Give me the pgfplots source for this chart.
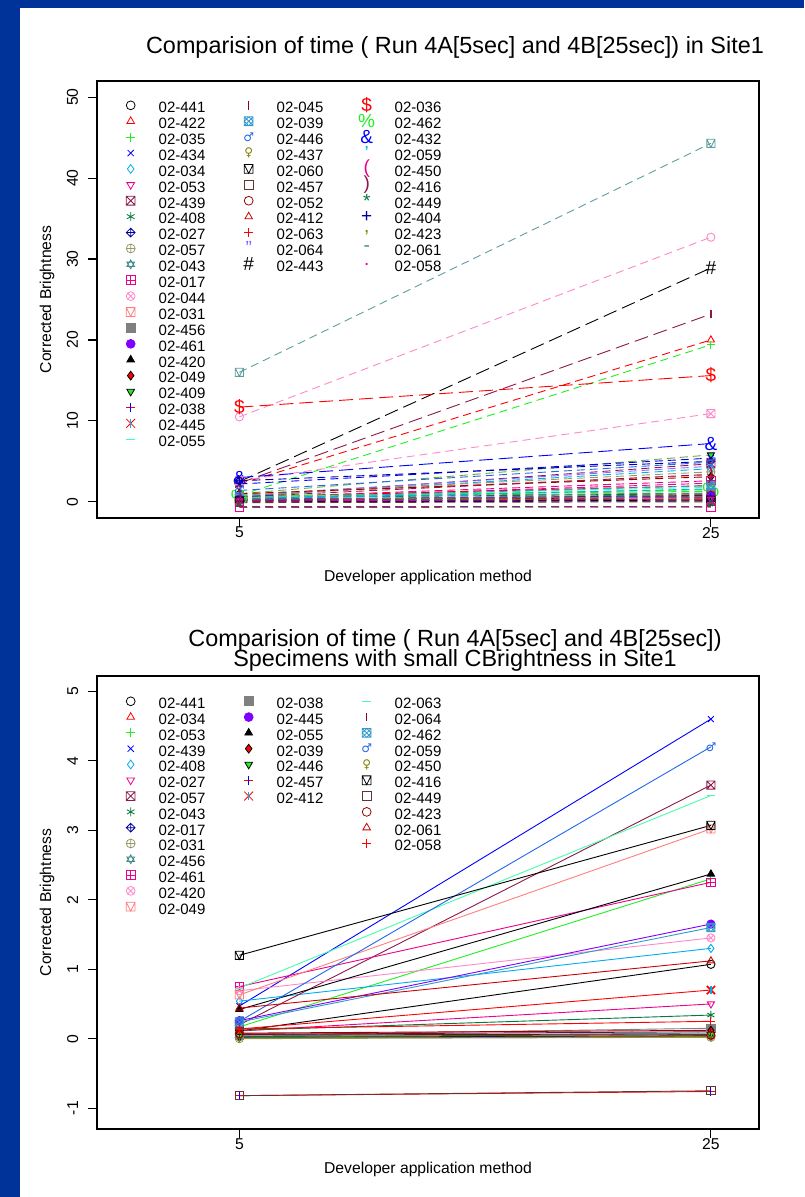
\documentclass[border=0pt]{standalone}
\usepackage{fontspec}
\setmainfont{Liberation Sans}
\newfontfamily\dejavu{DejaVu Sans}
\usepackage{pgfplots}
\pgfplotsset{compat=1.18}
\usetikzlibrary{plotmarks}

\definecolor{bgblue}{HTML}{003399}
\definecolor{rgreen}{HTML}{22EE22}
\definecolor{rmaroon}{HTML}{8B1A4B}
\definecolor{rmaroon2}{HTML}{800040}
\definecolor{rdkgreen}{HTML}{007A3D}
\definecolor{rnavy}{HTML}{0000A0}
\definecolor{rolive}{HTML}{999966}
\definecolor{rteal}{HTML}{3D8B8B}
\definecolor{rteal2}{HTML}{5F9EA0}
\definecolor{rpink}{HTML}{FF88CC}
\definecolor{rsalmon}{HTML}{FF7F7F}
\definecolor{rgray}{HTML}{808080}
\definecolor{rpurple}{HTML}{8000FF}
\definecolor{rpurple2}{HTML}{8866FF}
\definecolor{rmint}{HTML}{44FFAA}
\definecolor{rsteel}{HTML}{3399CC}
\definecolor{rblue2}{HTML}{2266EE}
\definecolor{rolive2}{HTML}{808000}
\definecolor{rbrown}{HTML}{663333}
\definecolor{rdkred}{HTML}{990000}
\definecolor{rred2}{HTML}{CC0000}
\definecolor{rolivegreen}{HTML}{66AA33}

\newcommand{\LF}{\fontsize{15}{15}\selectfont}
\newcommand{\TF}{\fontsize{15.7}{15.7}\selectfont}
\newcommand{\HF}{\fontsize{23.4}{23.4}\selectfont}
\newcommand{\MF}{\fontsize{19}{19}\selectfont}
\newcommand{\DF}{\dejavu\fontsize{12}{12}\selectfont}

\newcommand{\mr}{\pgfplotmarksize}
\pgfdeclareplotmark{squarex}{%
  \pgfpathrectangle{\pgfqpoint{-\mr}{-\mr}}{\pgfqpoint{2\mr}{2\mr}}%
  \pgfpathmoveto{\pgfqpoint{-\mr}{-\mr}}\pgfpathlineto{\pgfqpoint{\mr}{\mr}}%
  \pgfpathmoveto{\pgfqpoint{-\mr}{\mr}}\pgfpathlineto{\pgfqpoint{\mr}{-\mr}}%
  \pgfusepathqstroke}
\pgfdeclareplotmark{squareplus}{%
  \pgfpathrectangle{\pgfqpoint{-\mr}{-\mr}}{\pgfqpoint{2\mr}{2\mr}}%
  \pgfpathmoveto{\pgfqpoint{-\mr}{0pt}}\pgfpathlineto{\pgfqpoint{\mr}{0pt}}%
  \pgfpathmoveto{\pgfqpoint{0pt}{\mr}}\pgfpathlineto{\pgfqpoint{0pt}{-\mr}}%
  \pgfusepathqstroke}
\pgfdeclareplotmark{squaretri}{%
  \pgfpathrectangle{\pgfqpoint{-\mr}{-\mr}}{\pgfqpoint{2\mr}{2\mr}}%
  \pgfpathmoveto{\pgfqpoint{-\mr}{\mr}}\pgfpathlineto{\pgfqpoint{0pt}{-\mr}}\pgfpathlineto{\pgfqpoint{\mr}{\mr}}%
  \pgfusepathqstroke}
\pgfdeclareplotmark{diamondplus}{%
  \pgfpathmoveto{\pgfqpoint{0pt}{\mr}}\pgfpathlineto{\pgfqpoint{\mr}{0pt}}\pgfpathlineto{\pgfqpoint{0pt}{-\mr}}\pgfpathlineto{\pgfqpoint{-\mr}{0pt}}\pgfpathclose
  \pgfpathmoveto{\pgfqpoint{-\mr}{0pt}}\pgfpathlineto{\pgfqpoint{\mr}{0pt}}%
  \pgfpathmoveto{\pgfqpoint{0pt}{\mr}}\pgfpathlineto{\pgfqpoint{0pt}{-\mr}}%
  \pgfusepathqstroke}
\pgfdeclareplotmark{davidstar}{%
  \pgfpathmoveto{\pgfqpoint{0pt}{\mr}}\pgfpathlineto{\pgfqpoint{-0.866\mr}{-0.5\mr}}\pgfpathlineto{\pgfqpoint{0.866\mr}{-0.5\mr}}\pgfpathclose
  \pgfpathmoveto{\pgfqpoint{0pt}{-\mr}}\pgfpathlineto{\pgfqpoint{-0.866\mr}{0.5\mr}}\pgfpathlineto{\pgfqpoint{0.866\mr}{0.5\mr}}\pgfpathclose
  \pgfusepathqstroke}
\pgfdeclareplotmark{hatch}{%
  \pgfpathrectangle{\pgfqpoint{-\mr}{-\mr}}{\pgfqpoint{2\mr}{2\mr}}%
  \pgfpathmoveto{\pgfqpoint{-\mr}{-\mr}}\pgfpathlineto{\pgfqpoint{\mr}{\mr}}%
  \pgfpathmoveto{\pgfqpoint{-\mr}{\mr}}\pgfpathlineto{\pgfqpoint{\mr}{-\mr}}%
  \pgfpathmoveto{\pgfqpoint{-\mr}{0pt}}\pgfpathlineto{\pgfqpoint{0pt}{\mr}}\pgfpathlineto{\pgfqpoint{\mr}{0pt}}\pgfpathlineto{\pgfqpoint{0pt}{-\mr}}\pgfpathclose
  \pgfusepathqstroke}
\pgfdeclareplotmark{crossarrow}{%
  \pgfsetstrokecolor{red}%
  \pgfpathmoveto{\pgfqpoint{-\mr}{0pt}}\pgfpathlineto{\pgfqpoint{\mr}{0pt}}\pgfusepathqstroke
  \pgfsetstrokecolor{blue}%
  \pgfpathmoveto{\pgfqpoint{0pt}{-\mr}}\pgfpathlineto{\pgfqpoint{0pt}{\mr}}\pgfusepathqstroke}
\pgfdeclareplotmark{xbar}{%
  \pgfsetstrokecolor{red}%
  \pgfpathmoveto{\pgfqpoint{-\mr}{-\mr}}\pgfpathlineto{\pgfqpoint{\mr}{\mr}}%
  \pgfpathmoveto{\pgfqpoint{-\mr}{\mr}}\pgfpathlineto{\pgfqpoint{\mr}{-\mr}}\pgfusepathqstroke
  \pgfsetstrokecolor{cyan}\pgfsetlinewidth{1.6pt}%
  \pgfpathmoveto{\pgfqpoint{0pt}{-\mr}}\pgfpathlineto{\pgfqpoint{0pt}{\mr}}\pgfusepathqstroke}

\tikzset{tmc/.style 2 args={mark=text, text mark={\MF\color{#1}#2}},
  tmdc/.style 2 args={mark=text, text mark={\DF\color{#1}#2}},
  dtri/.style={mark=triangle, mark options={solid, rotate=180}}}

\newcommand{\LE}[2]{\addlegendimage{#1}\addlegendentry{#2}}
\newcommand{\LB}{\addlegendimage{empty legend}\addlegendentry{}}

\pgfplotsset{
  rplot/.style={
    scale only axis, width=662pt,
    xmin=-1.04, xmax=27.04, xtick={5,25},
    tick align=outside, major tick length=9pt,
    xtick pos=bottom, ytick pos=left,
    axis line style={line width=1.1pt},
    tick style={line width=1.1pt, black},
    tick label style={font=\TF},
    /pgf/number format/assume math mode=true,
    yticklabel style={rotate=90, anchor=base, inner sep=0pt},
    yticklabel shift=10pt,
    xticklabel style={anchor=north, inner sep=0pt},
    every axis plot/.append style={mark size=4.1pt},
    legend columns=3,
    legend cell align=left,
    legend image code/.code={%
      \pgfpathrectangle{\pgfqpoint{-10pt}{-7.9pt}}{\pgfqpoint{38pt}{15.8pt}}\pgfusepath{}%
      \begin{pgfinterruptboundingbox}
      \draw[mark size=4.4pt, line width=0.8pt, ##1] plot coordinates {(0pt,2pt)};
      \end{pgfinterruptboundingbox}},
    legend style={draw=none, fill=none, inner sep=0pt, outer sep=0pt,
      row sep=0pt, column sep=0pt, font=\LF,
      nodes={inner sep=0pt, text width=80pt, text height=13.3pt, text depth=2.6pt, align=left}},
  },
  tl/.style={line width=0.9pt, dash pattern=on 8pt off 5pt},
  tll/.style={line width=0.9pt, dash pattern=on 14pt off 6pt},
  bl/.style={line width=0.9pt, solid},
}

\begin{document}
\begin{tikzpicture}[x=1pt,y=1pt]
\fill[bgblue] (0,0) rectangle (804,1197);
\fill[white] (20,0) rectangle (804,1189);

% ---------------- TOP PLOT ----------------
\begin{axis}[rplot, at={(97pt,679pt)}, anchor=south west, height=437pt,
  ymin=-2, ymax=52, ytick={0,10,20,30,40,50},
  legend style={at={(axis description cs:0.0358,0.9579)}, anchor=north west}]
\addplot[tl, color=rteal2, mark=squaretri, mark options={solid}, forget plot] coordinates {(5,16.0) (25,44.3)};
\addplot[tl, color=rpink, mark=o, mark options={solid}, forget plot] coordinates {(5,10.5) (25,32.7)};
\addplot[tll, color=black, tmc={black}{\#}, forget plot] coordinates {(5,2.5) (25,28.9)};
\addplot[tll, color=rmaroon, mark=|, mark options={solid, line width=1.5pt}, forget plot] coordinates {(5,2.3) (25,23.2)};
\addplot[tl, color=red, mark=triangle, mark options={solid}, forget plot] coordinates {(5,2.2) (25,20.0)};
\addplot[tl, color=rgreen, mark=+, mark options={solid}, forget plot] coordinates {(5,0.8) (25,19.4)};
\addplot[tll, color=red, tmc={red}{\$}, forget plot] coordinates {(5,11.7) (25,15.6)};
\addplot[tl, color=rpink, mark=squarex, mark options={solid}, forget plot] coordinates {(5,2.6) (25,10.9)};
\addplot[tll, color=blue, tmc={blue}{\&}, forget plot] coordinates {(5,3.0) (25,7.2)};
\addplot[tl, color=rolivegreen, mark=triangle*, mark options={solid, rotate=180, fill=rgreen, draw=black}, forget plot] coordinates {(5,1.0) (25,5.8)};
\addplot[tl, color=blue, mark=x, mark options={solid}, forget plot] coordinates {(5,2.2) (25,5.4)};
\addplot[tl, color=rnavy, mark=diamondplus, mark options={solid}, forget plot] coordinates {(5,2.6) (25,5.0)};
\addplot[tl, color=rmaroon, mark=squarex, mark options={solid}, forget plot] coordinates {(5,0.6) (25,4.7)};
\addplot[tl, color=rpurple2, mark=*, mark options={solid, scale=0.5}, forget plot] coordinates {(5,0.8) (25,4.4)};
\addplot[tl, color=cyan, mark=diamond, mark options={solid}, forget plot] coordinates {(5,0.7) (25,4.1)};
\addplot[tl, color=rolive, mark=oplus, mark options={solid}, forget plot] coordinates {(5,0.9) (25,3.7)};
\addplot[tl, color=rsalmon, mark=+, mark options={solid}, forget plot] coordinates {(5,0.9) (25,3.3)};
\addplot[tl, color=rdkred, mark=diamond*, mark options={solid, fill=red, draw=black}, forget plot] coordinates {(5,1.0) (25,3.1)};
\addplot[tl, color=magenta, mark=squareplus, mark options={solid}, forget plot] coordinates {(5,0.5) (25,2.6)};
\addplot[tl, color=magenta, mark=*, mark options={solid, scale=0.5}, forget plot] coordinates {(5,0.4) (25,2.3)};
\addplot[tl, color=rred2, mark=triangle, mark options={solid}, forget plot] coordinates {(5,0.6) (25,2.0)};
\addplot[tl, color=rgreen, tmc={rgreen}{\%}, forget plot] coordinates {(5,0.6) (25,1.5)};
\addplot[tl, color=rgreen, mark=o, mark options={solid}, forget plot] coordinates {(5,0.7) (25,1.3)};
\addplot[tl, color=rgray, mark=square*, mark options={solid}, forget plot] coordinates {(5,0.6) (25,1.1)};
\addplot[tl, color=rteal, mark=davidstar, mark options={solid}, forget plot] coordinates {(5,0.3) (25,0.9)};
\addplot[tl, color=rdkgreen, mark=asterisk, mark options={solid}, forget plot] coordinates {(5,0.5) (25,1.0)};
\addplot[tl, color=cyan, tmc={cyan}{'}, forget plot] coordinates {(5,0.3) (25,1.6)};
\addplot[tl, color=rmint, mark=-, mark options={solid}, forget plot] coordinates {(5,0.5) (25,1.8)};
\addplot[tl, color=rsteel, mark=hatch, mark options={solid}, forget plot] coordinates {(5,0.4) (25,2.0)};
\addplot[tl, color=rdkred, mark=o, mark options={solid}, forget plot] coordinates {(5,0.2) (25,0.8)};
\addplot[tl, color=black, mark=o, mark options={solid}, forget plot] coordinates {(5,0.3) (25,0.5)};
\addplot[tl, color=black, mark=triangle*, mark options={solid}, forget plot] coordinates {(5,0.2) (25,0.3)};
\addplot[tl, color=rpurple, mark=*, mark options={solid}, forget plot] coordinates {(5,0.3) (25,0.7)};
\addplot[tl, color=red, mark=crossarrow, mark options={solid}, forget plot] coordinates {(5,0.2) (25,0.6)};
\addplot[tl, color=rolive2, tmc={rolive2}{,}, forget plot] coordinates {(5,0.1) (25,0.4)};
\addplot[tl, color=rteal, mark=-, mark options={solid}, forget plot] coordinates {(5,0.3) (25,0.6)};
\addplot[tl, color=rnavy, mark=+, mark options={solid}, forget plot] coordinates {(5,0.0) (25,0.1)};
\addplot[tl, color=rbrown, mark=square, mark options={solid}, forget plot] coordinates {(5,-0.1) (25,0.0)};
\addplot[tl, color=black, mark=squaretri, mark options={solid}, forget plot] coordinates {(5,0.1) (25,0.2)};
\addplot[tl, color=magenta, dtri, forget plot] coordinates {(5,0.1) (25,0.3)};
\addplot[tl, color=rdkgreen, tmc={rdkgreen}{*}, forget plot] coordinates {(5,-0.6) (25,-0.6)};
\addplot[tl, color=magenta, mark=square, mark options={solid}, forget plot] coordinates {(5,-0.7) (25,-0.65)};
\addplot[tl, color=rmaroon, tmc={rmaroon}{)}, forget plot] coordinates {(5,0.6) (25,3.4)};
\addplot[tl, color=rblue2, tmdc={rblue2}{♂}, forget plot] coordinates {(5,1.4) (25,4.9)};
% legend (row-major, 3 columns)
\LE{black, mark=o}{02-441}\LE{rmaroon2, mark=|, line width=1.5pt}{02-045}\LE{red, tmc={red}{\$}}{02-036}
\LE{red, mark=triangle}{02-422}\LE{rsteel, mark=hatch}{02-039}\LE{rgreen, tmc={rgreen}{\%}}{02-462}
\LE{rgreen, mark=+}{02-035}\LE{rblue2, tmdc={rblue2}{♂}}{02-446}\LE{blue, tmc={blue}{\&}}{02-432}
\LE{blue, mark=x}{02-434}\LE{rolive2, tmdc={rolive2}{♀}}{02-437}\LE{cyan, tmc={cyan}{'}}{02-059}
\LE{cyan, mark=diamond}{02-034}\LE{black, mark=squaretri}{02-060}\LE{magenta, tmc={magenta}{(}}{02-450}
\LE{magenta, mark=triangle, mark options={rotate=180}}{02-053}\LE{rbrown, mark=square}{02-457}\LE{rmaroon, tmc={rmaroon}{)}}{02-416}
\LE{rmaroon, mark=squarex}{02-439}\LE{rdkred, mark=o}{02-052}\LE{rdkgreen, tmc={rdkgreen}{*}}{02-449}
\LE{rdkgreen, mark=asterisk}{02-408}\LE{rred2, mark=triangle}{02-412}\LE{rnavy, tmc={rnavy}{+}}{02-404}
\LE{rnavy, mark=diamondplus}{02-027}\LE{red, mark=+}{02-063}\LE{rolive2, tmc={rolive2}{,}}{02-423}
\LE{rolive, mark=oplus}{02-057}\LE{rpurple2, tmc={rpurple2}{"}}{02-064}\LE{rteal, tmc={rteal}{-}}{02-061}
\LE{rteal, mark=davidstar}{02-043}\LE{black, tmc={black}{\#}}{02-443}\LE{magenta, tmc={magenta}{.}}{02-058}
\LE{magenta, mark=squareplus}{02-017}\LB\LB
\LE{rpink, mark=otimes}{02-044}\LB\LB
\LE{rsalmon, mark=squaretri}{02-031}\LB\LB
\LE{rgray, mark=square*}{02-456}\LB\LB
\LE{rpurple, mark=*}{02-461}\LB\LB
\LE{black, mark=triangle*}{02-420}\LB\LB
\LE{black, mark=diamond*, mark options={fill=red}}{02-049}\LB\LB
\LE{black, mark=triangle*, mark options={rotate=180, fill=rgreen}}{02-409}\LB\LB
\LE{red, mark=crossarrow}{02-038}\LB\LB
\LE{red, mark=xbar}{02-445}\LB\LB
\LE{rmint, mark=-, line width=1.5pt}{02-055}\LB\LB
\end{axis}

% ---------------- BOTTOM PLOT ----------------
\begin{axis}[rplot, at={(97pt,68pt)}, anchor=south west, height=453pt,
  ymin=-1.30, ymax=5.22, ytick={-1,0,1,2,3,4,5},
  legend style={at={(axis description cs:0.0358,0.9572)}, anchor=north west,
    nodes={text height=13.25pt, text depth=2.55pt}}]
\addplot[bl, color=black, mark=o, forget plot] coordinates {(5,0.11) (25,1.07)};
\addplot[bl, color=red, mark=triangle, forget plot] coordinates {(5,0.02) (25,0.03)};
\addplot[bl, color=rgreen, mark=+, forget plot] coordinates {(5,0.17) (25,2.30)};
\addplot[bl, color=blue, mark=x, forget plot] coordinates {(5,0.47) (25,4.60)};
\addplot[bl, color=cyan, mark=diamond, forget plot] coordinates {(5,0.54) (25,1.30)};
\addplot[bl, color=magenta, dtri, forget plot] coordinates {(5,0.11) (25,0.50)};
\addplot[bl, color=rmaroon, mark=squarex, forget plot] coordinates {(5,0.20) (25,3.65)};
\addplot[bl, color=rdkgreen, mark=asterisk, forget plot] coordinates {(5,0.12) (25,0.34)};
\addplot[bl, color=rnavy, mark=diamondplus, forget plot] coordinates {(5,0.02) (25,0.04)};
\addplot[bl, color=rolive, mark=oplus, forget plot] coordinates {(5,0.00) (25,0.02)};
\addplot[bl, color=rteal, mark=davidstar, forget plot] coordinates {(5,0.04) (25,0.08)};
\addplot[bl, color=magenta, mark=squareplus, forget plot] coordinates {(5,0.75) (25,2.25)};
\addplot[bl, color=rpink, mark=otimes, forget plot] coordinates {(5,0.69) (25,1.45)};
\addplot[bl, color=rsalmon, mark=squaretri, forget plot] coordinates {(5,0.63) (25,3.02)};
\addplot[bl, color=rgray, mark=square*, forget plot] coordinates {(5,0.05) (25,0.15)};
\addplot[bl, color=rpurple, mark=*, forget plot] coordinates {(5,0.26) (25,1.65)};
\addplot[bl, color=black, mark=triangle*, forget plot] coordinates {(5,0.42) (25,2.37)};
\addplot[bl, color=rdkred, mark=diamond*, mark options={fill=red, draw=black}, forget plot] coordinates {(5,0.08) (25,0.12)};
\addplot[bl, color=rdkgreen, mark=triangle*, mark options={rotate=180, fill=rgreen, draw=black}, forget plot] coordinates {(5,0.03) (25,0.06)};
\addplot[bl, color=red, mark=crossarrow, forget plot] coordinates {(5,-0.82) (25,-0.76)};
\addplot[bl, color=red, mark=xbar, forget plot] coordinates {(5,0.14) (25,0.70)};
\addplot[bl, color=rmint, mark=-, forget plot] coordinates {(5,0.73) (25,3.50)};
\addplot[bl, color=rmaroon2, mark=|, forget plot] coordinates {(5,0.06) (25,0.10)};
\addplot[bl, color=rsteel, mark=hatch, forget plot] coordinates {(5,0.24) (25,1.60)};
\addplot[bl, color=rblue2, tmdc={rblue2}{♂}, forget plot] coordinates {(5,0.25) (25,4.20)};
\addplot[bl, color=rolive2, tmdc={rolive2}{♀}, forget plot] coordinates {(5,0.01) (25,0.03)};
\addplot[bl, color=black, mark=squaretri, forget plot] coordinates {(5,1.20) (25,3.07)};
\addplot[bl, color=rbrown, mark=square, forget plot] coordinates {(5,-0.82) (25,-0.75)};
\addplot[bl, color=rdkred, mark=o, forget plot] coordinates {(5,0.07) (25,0.05)};
\addplot[bl, color=rred2, mark=triangle, forget plot] coordinates {(5,0.44) (25,1.12)};
\addplot[bl, color=red, mark=+, forget plot] coordinates {(5,0.14) (25,0.25)};
% legend
\LE{black, mark=o}{02-441}\LE{rgray, mark=square*}{02-038}\LE{rmint, mark=-, line width=1.5pt}{02-063}
\LE{red, mark=triangle}{02-034}\LE{rpurple, mark=*}{02-445}\LE{rmaroon2, mark=|, line width=1.5pt}{02-064}
\LE{rgreen, mark=+}{02-053}\LE{black, mark=triangle*}{02-055}\LE{rsteel, mark=hatch}{02-462}
\LE{blue, mark=x}{02-439}\LE{black, mark=diamond*, mark options={fill=red}}{02-039}\LE{rblue2, tmdc={rblue2}{♂}}{02-059}
\LE{cyan, mark=diamond}{02-408}\LE{black, mark=triangle*, mark options={rotate=180, fill=rgreen}}{02-446}\LE{rolive2, tmdc={rolive2}{♀}}{02-450}
\LE{magenta, mark=triangle, mark options={rotate=180}}{02-027}\LE{red, mark=crossarrow}{02-457}\LE{black, mark=squaretri}{02-416}
\LE{rmaroon, mark=squarex}{02-057}\LE{red, mark=xbar}{02-412}\LE{rbrown, mark=square}{02-449}
\LE{rdkgreen, mark=asterisk}{02-043}\LB\LE{rdkred, mark=o}{02-423}
\LE{rnavy, mark=diamondplus}{02-017}\LB\LE{rred2, mark=triangle}{02-061}
\LE{rolive, mark=oplus}{02-031}\LB\LE{red, mark=+}{02-058}
\LE{rteal, mark=davidstar}{02-456}\LB\LB
\LE{magenta, mark=squareplus}{02-461}\LB\LB
\LE{rpink, mark=otimes}{02-420}\LB\LB
\LE{rsalmon, mark=squaretri}{02-049}\LB\LB
\end{axis}

% titles and labels
\node[font=\HF, anchor=base] at (455,1143) {Comparision of time ( Run 4A[5sec] and 4B[25sec]) in Site1};
\node[font=\TF, anchor=base] at (428,615) {Developer application method};
\node[font=\TF, anchor=base, rotate=90] at (51,897.5) {Corrected Brightness};
\node[font=\HF, anchor=base] at (455,550) {Comparision of time ( Run 4A[5sec] and 4B[25sec])};
\node[font=\HF, anchor=base] at (455,530) {Specimens with small CBrightness in Site1};
\node[font=\TF, anchor=base] at (428,23.5) {Developer application method};
\node[font=\TF, anchor=base, rotate=90] at (51,294.5) {Corrected Brightness};
\end{tikzpicture}
\end{document}
